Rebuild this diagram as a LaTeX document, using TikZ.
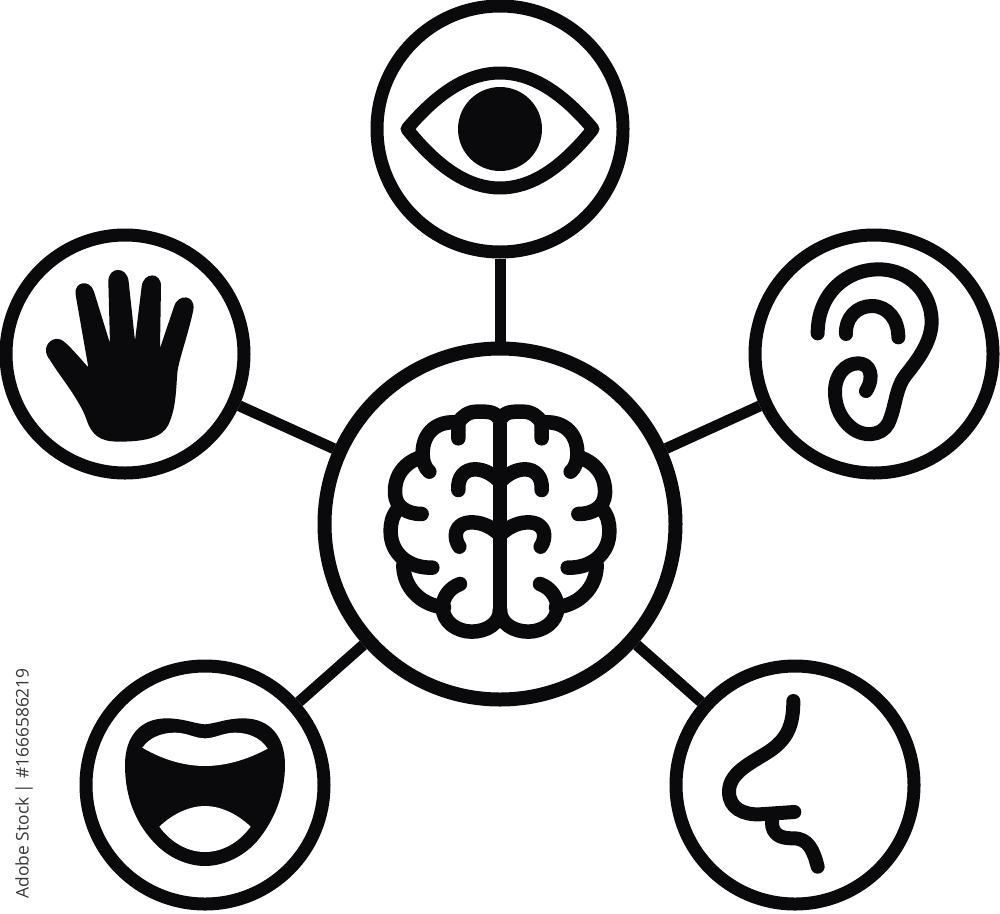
\documentclass[tikz,border=0pt]{standalone}
\usepackage{fontspec}
\setmainfont{Open Sans}
\definecolor{ink}{HTML}{0A0A0C}
\tikzset{
  sense/.style={circle,draw=ink,fill=white,line width=13pt,inner sep=0pt,minimum size=238pt},
  bigsense/.style={circle,draw=ink,fill=white,line width=13pt,inner sep=0pt,minimum size=246pt},
  hub/.style={circle,draw=ink,fill=white,line width=14pt,inner sep=0pt,minimum size=351pt},
  link/.style={draw=ink,line width=11pt},
  stroke14/.style={draw=ink,line width=14.5pt,line cap=round,line join=round},
  stroke13/.style={draw=ink,line width=14pt,line cap=round,line join=round}
}
\newcommand{\brainhalf}{%
  \draw[stroke14] (390,90) .. controls (375,62) and (350,65) .. (320,65)
     .. controls (295,65) and (275,80) .. (265,98) -- (265,145);
  \draw[stroke14] (265,98) .. controls (205,90) and (158,125) .. (158,190)
     .. controls (158,215) and (165,235) .. (178,245);
  \draw[stroke14] (158,200) .. controls (105,215) and (73,255) .. (75,310)
     .. controls (76,350) and (110,372) .. (155,372);
  \draw[stroke14] (85,355) .. controls (65,380) and (62,400) .. (62,425)
     .. controls (62,490) and (115,535) .. (187,533);
  \draw[stroke14] (100,525) .. controls (100,590) and (150,645) .. (222,652);
  \draw[stroke14] (270,582) .. controls (235,595) and (218,625) .. (218,652)
     .. controls (218,695) and (260,725) .. (305,725)
     .. controls (350,725) and (390,700) .. (390,660);
  \draw[stroke14] (265,300) .. controls (262,260) and (285,238) .. (315,238)
     .. controls (345,238) and (370,255) .. (390,275);
  \draw[stroke14] (268,470) .. controls (250,445) and (250,398) .. (305,397)
     .. controls (340,397) and (370,415) .. (390,435);
}
\begin{document}
\begin{tikzpicture}[x=1pt,y=-1pt]
\useasboundingbox (0,0) rectangle (1000,913);
\fill[white] (0,0) rectangle (1000,913);
\node[hub]      (brain) at (500,524) {};
\node[bigsense] (eye)   at (500,129) {};
\node[sense]    (hand)  at (125,354) {};
\node[sense]    (ear)   at (874,354) {};
\node[sense]    (mouth) at (205,785) {};
\node[sense]    (nose)  at (795,785) {};
\draw[link] (eye) -- (brain);
\draw[link] (hand) -- (brain);
\draw[link] (ear) -- (brain);
\draw[link] (mouth) -- (brain);
\draw[link] (nose) -- (brain);
% eye
\draw[draw=ink,line width=13pt,line join=round,fill=white] (407,129)
  .. controls (440,90) and (470,73) .. (500,73)
  .. controls (530,73) and (560,90) .. (593,129)
  .. controls (560,170) and (530,188) .. (500,188)
  .. controls (470,188) and (440,170) .. (407,129) -- cycle;
\fill[ink] (500,129) circle (42pt);
% brain
\begin{scope}[shift={(370,390)},x=0.3333pt,y=-0.3333pt]
  \brainhalf
  \draw[stroke14] (390,90) -- (390,670);
\end{scope}
\begin{scope}[shift={(630,390)},x=-0.3333pt,y=-0.3333pt]
  \brainhalf
\end{scope}
% hand
\begin{scope}[shift={(30,250)},x=0.3333pt,y=-0.3333pt]
\fill[ink] (48,305) .. controls (45,280) and (70,258) .. (95,270)
  .. controls (115,282) and (150,325) .. (175,352)
  -- (137,135) .. controls (130,95) and (180,85) .. (192,125)
  -- (240,280)
  -- (235,95) .. controls (235,48) and (292,48) .. (296,95)
  -- (315,272)
  -- (335,110) .. controls (340,65) and (395,65) .. (393,110)
  -- (390,295)
  -- (432,170) .. controls (445,128) and (498,135) .. (490,180)
  .. controls (478,240) and (450,320) .. (443,360)
  .. controls (437,420) and (440,470) .. (415,525)
  .. controls (395,565) and (340,575) .. (265,575)
  .. controls (210,575) and (185,555) .. (170,510)
  .. controls (150,450) and (90,380) .. (60,330)
  .. controls (52,320) and (49,312) .. (48,305) -- cycle;
\end{scope}
% ear
\begin{scope}[shift={(790,250)},x=0.3333pt,y=-0.3333pt]
  \draw[stroke13] (83,250) .. controls (83,130) and (170,58) .. (265,58)
    .. controls (360,58) and (425,130) .. (425,215)
    .. controls (425,280) and (375,340) .. (345,378)
    .. controls (315,420) and (318,470) .. (295,520)
    .. controls (275,560) and (215,565) .. (175,525)
    .. controls (145,495) and (135,460) .. (135,425)
    .. controls (135,375) and (165,340) .. (205,340)
    .. controls (240,340) and (255,380) .. (228,423);
  \draw[stroke13] (168,252) .. controls (165,205) and (200,168) .. (245,168)
    .. controls (295,168) and (325,210) .. (325,262);
\end{scope}
% mouth
\begin{scope}[shift={(110,700)},x=0.3333pt,y=-0.3333pt]
\fill[ink] (285,73) .. controls (250,70) and (220,55) .. (170,55)
  .. controls (90,55) and (45,110) .. (45,195)
  .. controls (45,280) and (70,360) .. (130,425)
  .. controls (175,475) and (235,498) .. (285,498)
  .. controls (335,498) and (395,475) .. (440,425)
  .. controls (495,360) and (525,280) .. (525,195)
  .. controls (525,110) and (480,55) .. (400,55)
  .. controls (350,55) and (320,70) .. (285,73) -- cycle;
\fill[white] (97,143) .. controls (120,110) and (160,98) .. (195,98)
  .. controls (230,98) and (255,115) .. (285,115)
  .. controls (315,115) and (340,98) .. (375,98)
  .. controls (410,98) and (450,110) .. (473,146)
  .. controls (410,180) and (345,198) .. (285,198)
  .. controls (225,198) and (160,180) .. (97,143) -- cycle;
\fill[white] (148,380) .. controls (190,340) and (240,318) .. (285,318)
  .. controls (330,318) and (380,340) .. (422,380)
  .. controls (385,430) and (335,456) .. (285,456)
  .. controls (235,456) and (185,430) .. (148,380) -- cycle;
\end{scope}
% nose
\begin{scope}[shift={(700,680)},x=0.3333pt,y=-0.3333pt]
  \draw[stroke13] (280,63) .. controls (280,130) and (265,170) .. (220,205)
    .. controls (175,240) and (87,270) .. (87,335)
    .. controls (87,385) and (130,405) .. (180,403)
    -- (283,396);
  \draw[stroke13] (215,405) -- (217,440) .. controls (225,470) and (250,475) .. (280,475)
    .. controls (325,475) and (340,510) .. (353,560);
\end{scope}
\node[rotate=90,anchor=east,inner sep=0pt,text=black!78,font=\fontsize{17.4}{17.4}\selectfont] (stockid) at (24,668) {Adobe Stock | \#1666586219};
\end{tikzpicture}
\end{document}
